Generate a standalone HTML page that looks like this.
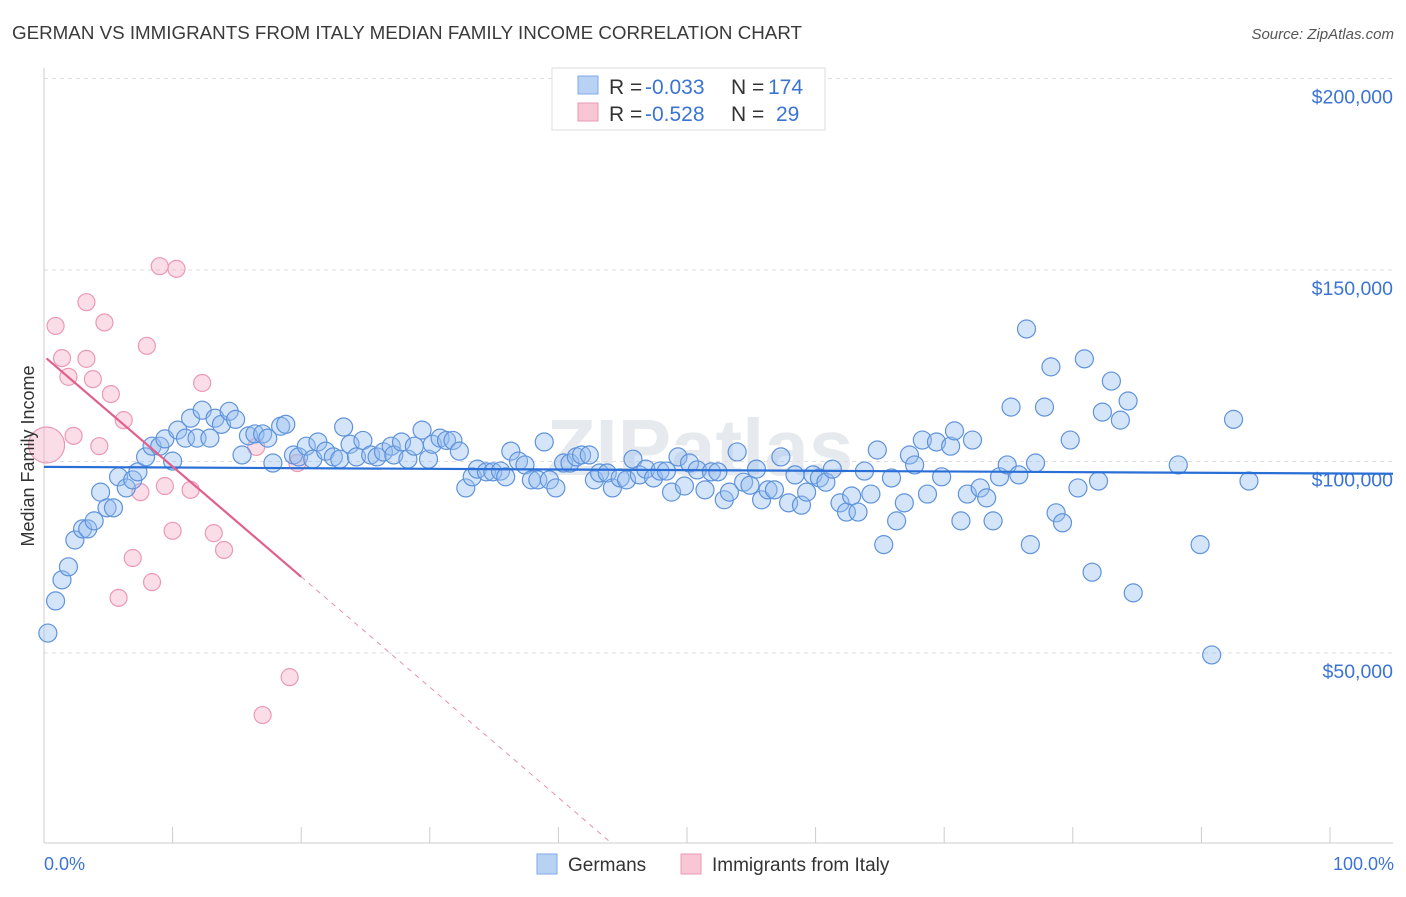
<!DOCTYPE html>
<html><head><meta charset="utf-8">
<style>
body{margin:0;background:#fff;font-family:"Liberation Sans",sans-serif;}
svg text{font-family:"Liberation Sans",sans-serif;}
</style></head>
<body>
<svg id="chart" width="1406" height="892" viewBox="0 0 1406 892">
<text x="12" y="39" font-size="18" fill="#3a3a3a" textLength="790" lengthAdjust="spacingAndGlyphs">GERMAN VS IMMIGRANTS FROM ITALY MEDIAN FAMILY INCOME CORRELATION CHART</text>
<text x="1394" y="39" font-size="15" fill="#555" font-style="italic" text-anchor="end">Source: ZipAtlas.com</text>
<text x="700" y="475" font-size="80" fill="#e6e9ee" text-anchor="middle" font-weight="bold">ZIPatlas</text>
<g id="grid"></g>
<g id="axes"></g>
<g id="pinkPts"></g>
<g id="bluePts"></g>
<g id="lines"></g>
<text transform="translate(34,456) rotate(-90)" font-size="18" fill="#333" text-anchor="middle">Median Family Income</text>
<text x="44" y="870" font-size="18" fill="#3b74d4">0.0%</text>
<text x="1394" y="870" font-size="18" fill="#3b74d4" text-anchor="end">100.0%</text>
<g>
<rect x="552" y="68" width="273" height="62" fill="#fff" stroke="#ddd"/>
<rect x="578" y="76" width="20" height="18" fill="#b8d2f4" stroke="#7fa8e6"/>
<rect x="578" y="103" width="20" height="18" fill="#f9c6d5" stroke="#eb9ab4"/>
<text x="609" y="94" font-size="21" fill="#333">R = <tspan x="645" fill="#3b74d4">-0.033</tspan><tspan x="731">N = </tspan><tspan x="768" fill="#3b74d4">174</tspan></text>
<text x="609" y="121" font-size="21" fill="#333">R = <tspan x="645" fill="#3b74d4">-0.528</tspan><tspan x="731">N = </tspan><tspan x="776" fill="#3b74d4">29</tspan></text>
</g>
<g>
<rect x="537" y="854" width="20" height="20" fill="#b8d2f4" stroke="#7fa8e6"/>
<text x="568" y="871" font-size="19" fill="#333">Germans</text>
<rect x="681" y="854" width="20" height="20" fill="#f9c6d5" stroke="#eb9ab4"/>
<text x="712" y="871" font-size="19" fill="#333">Immigrants from Italy</text>
</g>
</svg>
<script>
const yTicks=[50000,100000,150000,200000];
const yTickLabels=["$50,000","$100,000","$150,000","$200,000"];
const xTicks=[0,10,20,30,40,50,60,70,80,90,100];
const blueX=[0.3,0.9,1.4,1.9,2.4,3.0,3.4,3.9,4.4,4.9,5.4,5.8,6.4,6.9,7.3,7.9,8.4,9.0,9.4,10.0,10.4,11.0,11.4,11.9,12.3,12.9,13.3,13.8,14.4,14.9,15.4,15.9,16.4,17.0,17.4,17.8,18.4,18.8,19.4,19.8,20.4,20.9,21.3,21.9,22.5,23.0,23.3,23.8,24.3,24.8,25.4,25.9,26.4,27.0,27.2,27.8,28.3,28.8,29.4,29.9,30.2,30.8,31.3,31.8,32.3,32.8,33.3,33.7,34.4,34.9,35.5,35.9,36.3,36.9,37.4,37.9,38.4,38.9,39.3,39.8,40.4,40.9,41.4,41.8,42.4,42.8,43.2,43.8,44.2,44.8,45.3,45.8,46.3,46.8,47.4,47.9,48.4,48.8,49.3,49.8,50.2,50.8,51.4,51.9,52.4,52.9,53.3,53.9,54.4,54.9,55.4,55.8,56.3,56.8,57.3,57.9,58.4,58.9,59.3,59.8,60.3,60.8,61.3,61.9,62.4,62.8,63.3,63.8,64.3,64.8,65.3,65.9,66.3,66.9,67.3,67.7,68.3,68.7,69.4,69.8,70.5,70.8,71.3,71.8,72.2,72.8,73.3,73.8,74.3,74.9,75.2,75.8,76.4,76.7,77.1,77.8,78.3,78.7,79.2,79.8,80.4,80.9,81.5,82.0,82.3,83.0,83.7,84.3,84.7,88.2,89.9,90.8,92.5,93.7];
const blueY=[55.2,63.6,69.1,72.5,79.5,82.4,82.4,84.5,92.0,87.9,87.9,96.0,93.1,95.2,97.3,101.2,104.0,104.0,105.9,100.1,108.2,106.1,111.3,106.1,113.4,106.1,111.3,109.7,113.1,111.0,101.7,106.7,107.2,107.2,106.1,99.6,109.2,109.7,101.7,101.2,104.0,100.6,105.1,102.7,101.2,100.6,109.0,104.5,101.2,105.5,101.7,101.2,102.5,104.0,101.7,105.1,100.6,104.0,108.2,100.6,104.5,106.1,105.5,105.5,102.7,93.1,96.0,98.0,97.3,97.3,97.5,96.0,102.7,100.1,99.1,95.2,95.2,105.1,95.2,93.1,99.6,99.6,101.2,101.7,101.7,95.2,97.0,97.0,93.1,95.7,95.2,100.6,96.5,98.0,95.7,97.5,97.5,92.0,101.2,93.6,99.6,97.8,92.6,97.3,97.3,90.0,92.0,102.5,94.6,93.8,98.0,90.0,92.6,92.6,101.2,89.2,96.5,88.6,92.0,96.5,95.7,94.6,98.0,89.2,86.8,91.0,86.8,97.5,91.5,103.0,78.3,95.7,84.5,89.2,101.7,99.1,105.6,91.5,105.1,96.0,104.0,108.0,84.5,91.5,105.6,93.1,90.5,84.5,96.0,99.1,114.2,96.5,134.6,78.3,99.6,114.2,124.7,86.6,84.0,105.6,93.1,126.8,71.1,94.9,112.9,121.0,110.8,115.8,65.7,99.1,78.3,49.5,111.0,94.9];
const pinkX=[0.9,1.4,1.9,2.3,3.3,3.3,3.8,4.3,4.7,5.2,5.8,6.2,6.9,7.5,8.0,8.4,9.0,9.4,10.0,10.3,11.4,12.3,13.2,14.0,16.5,17.0,19.1,19.7,0.2];
const pinkY=[135.4,127.0,122.1,106.7,141.6,126.8,121.5,104.0,136.3,117.6,64.4,110.8,74.8,92.0,130.2,68.5,151.0,93.6,81.9,150.3,92.6,120.5,81.3,76.9,103.8,33.8,43.7,99.6,104.3];
const pinkR=[8.5,8.5,8.5,8.5,8.5,8.5,8.5,8.5,8.5,8.5,8.5,8.5,8.5,8.5,8.5,8.5,8.5,8.5,8.5,8.5,8.5,8.5,8.5,8.5,8.5,8.5,8.5,8.5,18];
const blueTrend=[[0,98.6],[104.9,96.8]];
const pinkTrendSolid=[[0.2,126.9],[20,69.9]];
const pinkTrendDash=[[20,69.9],[43.9,1.0]];

const X0=44,X1=1330,Y0=844.5,PXK=3.83;
const sx=v=>X0+(X1-X0)*v/100;
const sy=k=>Y0-k*PXK;
const NS="http://www.w3.org/2000/svg";
function mk(tag,attrs,parent){const e=document.createElementNS(NS,tag);for(const k in attrs)e.setAttribute(k,attrs[k]);document.getElementById(parent).appendChild(e);return e;}

yTicks.forEach((t,i)=>{
  const y=sy(t/1000);
  const g=mk('line',{x1:44,x2:1393,y1:y,y2:y,stroke:'#ddd','stroke-dasharray':'4,4'},'grid');
  
  
  const tx=mk('text',{x:1393,y:y+25,'font-size':19.5,fill:'#3b74d4','text-anchor':'end'},'grid');
  tx.textContent=yTickLabels[i];
  
  
});
const ya=mk('line',{x1:44,x2:44,y1:68,y2:843,stroke:'#ccc'},'axes');


const xa=mk('line',{x1:44,x2:1393,y1:843,y2:843,stroke:'#ccc'},'axes');


xTicks.forEach(t=>{
  const l=mk('line',{x1:sx(t),x2:sx(t),y1:827,y2:843,stroke:'#ccc'},'axes');
  
  
});
pinkX.forEach((v,i)=>{
  const c=mk('circle',{cx:sx(v),cy:sy(pinkY[i]),r:pinkR[i],fill:'rgba(246,170,195,0.4)',stroke:'#eb9ab4','stroke-width':1.2},'pinkPts');
  
  
});
blueX.forEach((v,i)=>{
  const c=mk('circle',{cx:sx(v),cy:sy(blueY[i]),r:9,fill:'rgba(150,190,240,0.4)',stroke:'#5f93dc','stroke-width':1.2},'bluePts');
  
  
});
const bt=mk('line',{x1:sx(blueTrend[0][0]),y1:sy(blueTrend[0][1]),x2:sx(blueTrend[1][0]),y2:sy(blueTrend[1][1]),stroke:'#2a6fd6','stroke-width':2.2},'lines');


const pt=mk('line',{x1:sx(pinkTrendSolid[0][0]),y1:sy(pinkTrendSolid[0][1]),x2:sx(pinkTrendSolid[1][0]),y2:sy(pinkTrendSolid[1][1]),stroke:'#e0608a','stroke-width':2.2},'lines');


const pd=mk('line',{x1:sx(pinkTrendDash[0][0]),y1:sy(pinkTrendDash[0][1]),x2:sx(pinkTrendDash[1][0]),y2:sy(pinkTrendDash[1][1]),stroke:'#e890ad','stroke-width':1,'stroke-dasharray':'5,5'},'lines');


</script>
</body></html>
